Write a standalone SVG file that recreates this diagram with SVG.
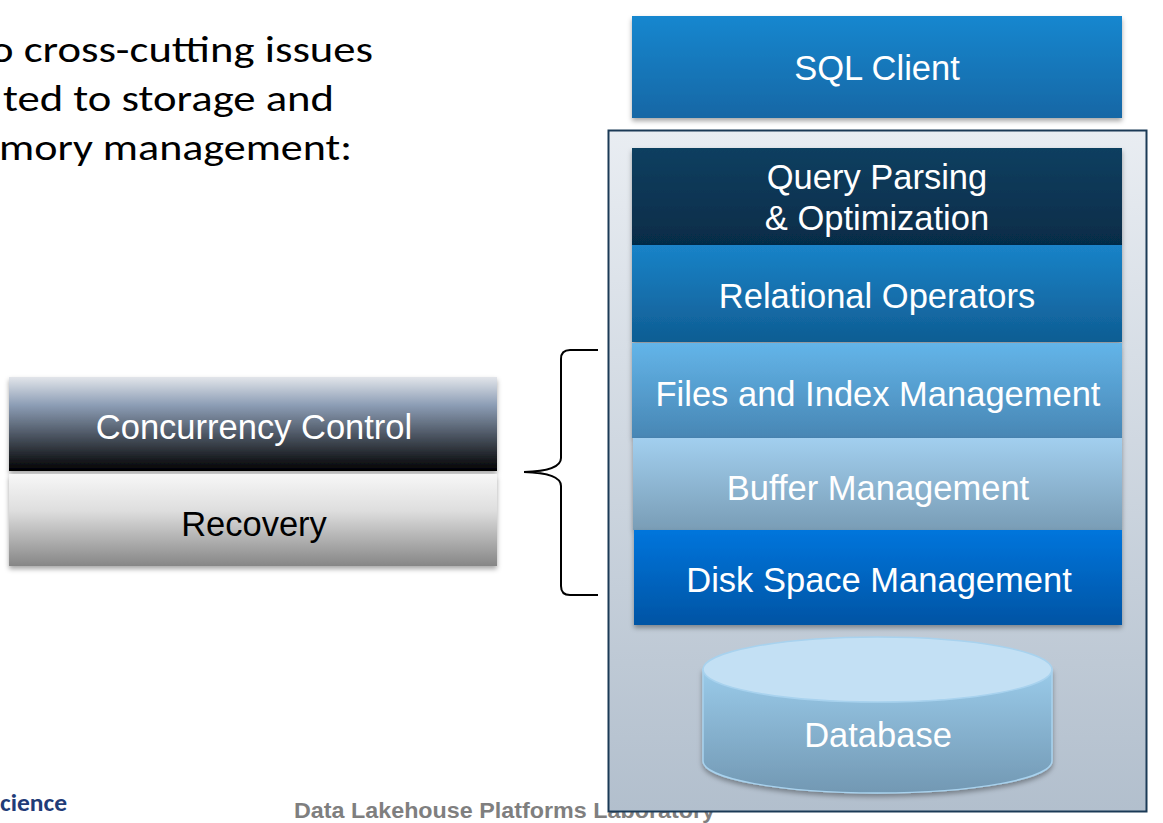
<svg xmlns="http://www.w3.org/2000/svg" width="1163" height="823" viewBox="0 0 1163 823">
<defs>
<style>
.lbl{font-family:"Liberation Sans",Arial,sans-serif;font-size:34.5px;fill:#ffffff;text-anchor:middle}
.dark{fill:#000000}
.body{font-family:Carlito,Lato,"Open Sans",sans-serif;font-size:36px;fill:#000000}
</style>
<filter id="sh" x="-5%" y="-10%" width="110%" height="125%">
<feDropShadow dx="0" dy="3" stdDeviation="2.5" flood-color="#000" flood-opacity="0.35"/>
</filter>
<linearGradient id="gSql" x1="0" y1="0" x2="0" y2="1"><stop offset="0" stop-color="#1687cf"/><stop offset="1" stop-color="#1467a5"/></linearGradient>
<linearGradient id="gBox" x1="0" y1="0" x2="0" y2="1"><stop offset="0" stop-color="#e9edf2"/><stop offset="1" stop-color="#b2bfcd"/></linearGradient>
<linearGradient id="gQp" x1="0" y1="0" x2="0" y2="1"><stop offset="0" stop-color="#0e3f60"/><stop offset="1" stop-color="#062c48"/></linearGradient>
<linearGradient id="gRo" x1="0" y1="0" x2="0" y2="1"><stop offset="0" stop-color="#1a83c8"/><stop offset="1" stop-color="#0f5d93"/></linearGradient>
<linearGradient id="gFi" x1="0" y1="0" x2="0" y2="1"><stop offset="0" stop-color="#63b5e9"/><stop offset="1" stop-color="#4886b4"/></linearGradient>
<linearGradient id="gBm" x1="0" y1="0" x2="0" y2="1"><stop offset="0" stop-color="#a2cfef"/><stop offset="1" stop-color="#799db6"/></linearGradient>
<linearGradient id="gDs" x1="0" y1="0" x2="0" y2="1"><stop offset="0" stop-color="#0175dc"/><stop offset="1" stop-color="#0054a4"/></linearGradient>
<linearGradient id="gCc" x1="0" y1="0" x2="0" y2="1"><stop offset="0" stop-color="#e2e5ea"/><stop offset="0.3" stop-color="#8c9db5"/><stop offset="1" stop-color="#000000"/></linearGradient>
<linearGradient id="gRe" x1="0" y1="0" x2="0" y2="1"><stop offset="0" stop-color="#f7f7f7"/><stop offset="0.4" stop-color="#dedede"/><stop offset="1" stop-color="#868686"/></linearGradient>
<linearGradient id="gDbS" x1="0" y1="0" x2="0" y2="1"><stop offset="0" stop-color="#9acbea"/><stop offset="1" stop-color="#7298b3"/></linearGradient>
</defs>
<rect width="1163" height="823" fill="#ffffff"/>

<g id="intro-text">
<text class="body" x="-10" y="62" textLength="383" lengthAdjust="spacingAndGlyphs">o cross-cutting issues</text>
<text class="body" x="3" y="111" textLength="331" lengthAdjust="spacingAndGlyphs">ted to storage and</text>
<text class="body" x="-1" y="160" textLength="353" lengthAdjust="spacingAndGlyphs">mory management:</text>
</g>

<g id="footer">
<text x="0" y="811" font-family="Carlito,Lato,'Open Sans',sans-serif" font-weight="bold" font-size="24" fill="#1f3c78" textLength="67" lengthAdjust="spacingAndGlyphs">cience</text>
<text x="294" y="818" font-family="'Liberation Sans',Arial,sans-serif" font-weight="bold" font-size="22" fill="#7f7f7f" textLength="421" lengthAdjust="spacingAndGlyphs">Data Lakehouse Platforms Laboratory</text>
</g>

<g id="sql-client">
<rect x="632" y="16" width="490" height="102" fill="url(#gSql)" filter="url(#sh)"/>
<text class="lbl" x="877" y="80">SQL Client</text>
</g>

<g id="dbms">
<rect x="608.5" y="130.5" width="538" height="681" fill="url(#gBox)" stroke="#1b3a56" stroke-width="2"/>
</g>

<g id="query-parsing">
<rect x="632" y="148" width="490" height="97" fill="url(#gQp)" filter="url(#sh)"/>
<text class="lbl" x="877" y="189">Query Parsing</text>
<text class="lbl" x="877" y="230">&amp; Optimization</text>
</g>

<g id="relational-operators">
<rect x="632" y="245" width="490" height="97" fill="url(#gRo)" filter="url(#sh)"/>
<text class="lbl" x="877" y="308">Relational Operators</text>
</g>

<g id="files-index">
<rect x="632" y="343" width="490" height="95" fill="url(#gFi)" filter="url(#sh)"/>
<text class="lbl" x="878" y="406">Files and Index Management</text>
</g>

<g id="buffer-management">
<rect x="633" y="438" width="489" height="92" fill="url(#gBm)" filter="url(#sh)"/>
<text class="lbl" x="878" y="500">Buffer Management</text>
</g>

<g id="disk-space">
<rect x="634" y="530" width="488" height="95" fill="url(#gDs)" filter="url(#sh)"/>
<text class="lbl" x="879" y="592">Disk Space Management</text>
</g>

<g id="database">
<path d="M703,669 L703,761 A174.5,32 0 0 0 1052,761 L1052,669 Z" fill="url(#gDbS)" stroke="#a8d2ee" stroke-width="1.5" filter="url(#sh)"/>
<ellipse cx="877.5" cy="669.5" rx="174.5" ry="32.5" fill="#c3e0f4" stroke="#a8d2ee" stroke-width="1.5"/>
<text class="lbl" x="878" y="747">Database</text>
</g>

<g id="concurrency-control">
<rect x="9" y="377" width="488" height="94" fill="url(#gCc)" filter="url(#sh)"/>
<text class="lbl" x="254" y="439">Concurrency Control</text>
</g>

<g id="recovery">
<rect x="9" y="474" width="488" height="92" fill="url(#gRe)" filter="url(#sh)"/>
<text class="lbl dark" x="254" y="536">Recovery</text>
</g>

<g id="connectors">
<path d="M598,350 L570,350 Q561,350 561,359 L561,458 Q561,471 524,472 Q561,473 561,486 L561,586 Q561,595 570,595 L598,595" fill="none" stroke="#000" stroke-width="2"/>
</g>
</svg>
